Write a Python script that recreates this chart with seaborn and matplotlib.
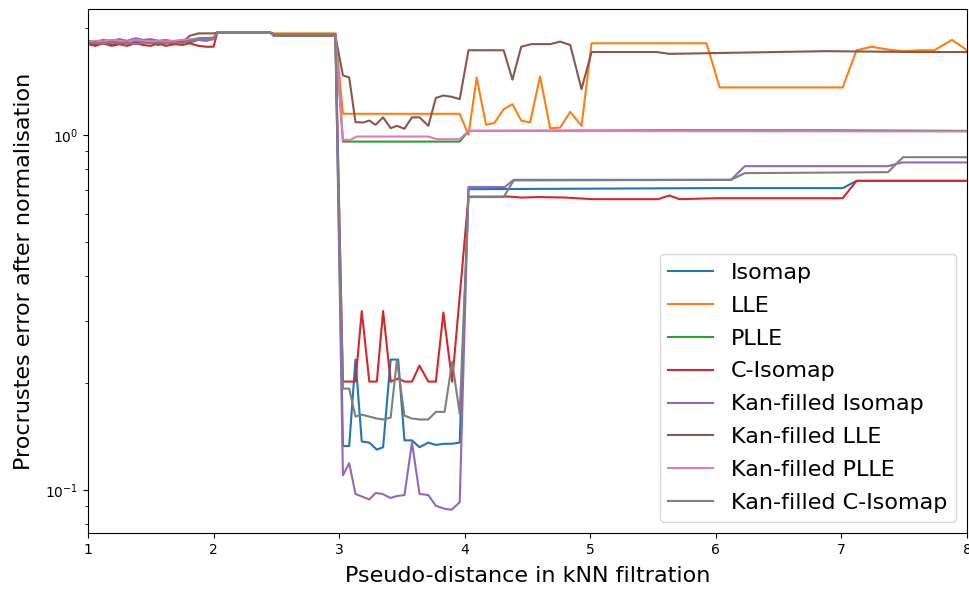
import numpy as np
import pandas as pd
import matplotlib
matplotlib.use("Agg")
import matplotlib.pyplot as plt
import seaborn as sns

methods = ["Isomap", "LLE", "PLLE", "C-Isomap", "Kan-filled Isomap",
           "Kan-filled LLE", "Kan-filled PLLE", "Kan-filled C-Isomap"]

# shared x positions for the noisy early part (1 .. 3)
x_early = [1.0, 1.06, 1.12, 1.19, 1.25, 1.31, 1.38, 1.44, 1.50, 1.56, 1.62,
           1.69, 1.75, 1.81, 1.88, 1.94, 2.0, 2.03, 2.45, 2.48, 2.97]

isomap_early = [1.82, 1.80, 1.83, 1.79, 1.82, 1.81, 1.80, 1.83, 1.82, 1.79, 1.82,
                1.80, 1.83, 1.82, 1.85, 1.86, 1.87, 1.94, 1.94, 1.92, 1.92]
lle_early = [1.83, 1.82, 1.81, 1.83, 1.82, 1.83, 1.81, 1.84, 1.82, 1.83, 1.81,
             1.83, 1.82, 1.84, 1.86, 1.87, 1.88, 1.94, 1.94, 1.93, 1.93]
plle_early = [1.82, 1.83, 1.82, 1.82, 1.83, 1.81, 1.83, 1.82, 1.83, 1.82, 1.83,
              1.82, 1.82, 1.85, 1.87, 1.87, 1.87, 1.94, 1.94, 1.92, 1.92]
cisomap_early = [1.80, 1.78, 1.81, 1.78, 1.80, 1.78, 1.81, 1.79, 1.78, 1.81, 1.78,
                 1.80, 1.79, 1.81, 1.78, 1.77, 1.77, 1.94, 1.94, 1.92, 1.92]
kisomap_early = [1.84, 1.83, 1.85, 1.84, 1.86, 1.84, 1.87, 1.85, 1.86, 1.84, 1.85,
                 1.83, 1.85, 1.84, 1.86, 1.86, 1.87, 1.94, 1.94, 1.92, 1.92]
klle_early = [1.82, 1.83, 1.81, 1.82, 1.83, 1.82, 1.81, 1.82, 1.83, 1.82, 1.81,
              1.83, 1.82, 1.90, 1.93, 1.93, 1.93, 1.94, 1.94, 1.90, 1.90]
kplle_early = [1.83, 1.84, 1.83, 1.85, 1.84, 1.83, 1.85, 1.84, 1.83, 1.84, 1.83,
               1.84, 1.85, 1.86, 1.85, 1.84, 1.86, 1.94, 1.94, 1.92, 1.92]
kcisomap_early = [1.81, 1.82, 1.80, 1.83, 1.81, 1.82, 1.80, 1.82, 1.81, 1.82, 1.81,
                  1.82, 1.81, 1.84, 1.85, 1.84, 1.86, 1.94, 1.94, 1.92, 1.92]

# later part (3 .. 8), per-series breakpoints
isomap_x = [3.03, 3.08, 3.13, 3.18, 3.24, 3.30, 3.35, 3.41, 3.47, 3.52, 3.58,
            3.64, 3.71, 3.77, 3.84, 3.90, 3.96, 4.03, 6.0, 7.01, 7.12, 8.0]
isomap_y = [0.133, 0.133, 0.233, 0.137, 0.136, 0.130, 0.132, 0.233, 0.233, 0.138, 0.138,
            0.132, 0.136, 0.134, 0.135, 0.135, 0.136, 0.703, 0.708, 0.708, 0.742, 0.742]

lle_x = [3.03, 3.96, 4.03, 4.095, 4.17, 4.235, 4.31, 4.38, 4.45, 4.52, 4.60, 4.68,
         4.76, 4.84, 4.93, 5.01, 5.925, 6.03, 7.01, 7.12, 7.24, 7.36, 7.49, 7.62,
         7.74, 7.88, 8.0]
lle_y = [1.146, 1.146, 1.0, 1.45, 1.067, 1.079, 1.18, 1.22, 1.097, 1.083, 1.46, 1.044,
         1.048, 1.16, 1.06, 1.81, 1.81, 1.36, 1.36, 1.73, 1.77, 1.74, 1.72, 1.73,
         1.73, 1.85, 1.73]

plle_x = [3.03, 3.96, 4.03, 5.6, 6.9, 8.0]
plle_y = [0.957, 0.957, 1.026, 1.03, 1.03, 1.026]

cisomap_x = [3.03, 3.13, 3.18, 3.24, 3.30, 3.35, 3.41, 3.47, 3.52, 3.58, 3.64, 3.71,
             3.77, 3.83, 3.90, 4.03, 4.36, 4.45, 4.6, 4.8, 5.02, 5.54, 5.63, 5.71,
             6.0, 7.01, 7.12, 8.0]
cisomap_y = [0.202, 0.202, 0.319, 0.202, 0.202, 0.319, 0.202, 0.206, 0.202, 0.202, 0.224, 0.202,
             0.202, 0.316, 0.202, 0.67, 0.67, 0.666, 0.668, 0.666, 0.659, 0.659, 0.675, 0.659,
             0.663, 0.663, 0.742, 0.742]

kisomap_x = [3.03, 3.08, 3.13, 3.24, 3.29, 3.345, 3.41, 3.46, 3.52, 3.58, 3.64, 3.71,
             3.77, 3.84, 3.895, 3.96, 4.03, 4.32, 4.39, 6.12, 6.23, 7.37, 7.48, 8.0]
kisomap_y = [0.110, 0.119, 0.0975, 0.0941, 0.0981, 0.0975, 0.095, 0.0962, 0.0968, 0.136,
             0.0975, 0.0968, 0.0903, 0.0886, 0.088, 0.0924, 0.713, 0.713, 0.747, 0.747,
             0.816, 0.816, 0.836, 0.836]

klle_x = [3.03, 3.08, 3.13, 3.19, 3.24, 3.29, 3.35, 3.41, 3.46, 3.52, 3.58, 3.64,
          3.71, 3.77, 3.83, 3.895, 3.96, 4.03, 4.31, 4.38, 4.45, 4.53, 4.68, 4.76,
          4.84, 4.93, 5.01, 5.53, 5.63, 6.88, 7.6, 8.0]
klle_y = [1.47, 1.45, 1.086, 1.083, 1.097, 1.067, 1.12, 1.044, 1.06, 1.04, 1.12, 1.12,
          1.06, 1.27, 1.29, 1.28, 1.26, 1.73, 1.73, 1.43, 1.77, 1.80, 1.80, 1.83,
          1.79, 1.345, 1.71, 1.71, 1.69, 1.72, 1.71, 1.71]

kplle_x = [3.03, 3.09, 3.14, 3.71, 3.78, 3.96, 4.03, 8.0]
kplle_y = [0.968, 0.968, 0.989, 0.989, 0.972, 0.972, 1.026, 1.022]

kcisomap_x = [3.03, 3.08, 3.13, 3.18, 3.24, 3.30, 3.35, 3.41, 3.46, 3.52, 3.58, 3.64,
              3.71, 3.77, 3.84, 3.90, 3.96, 4.03, 4.31, 4.39, 6.12, 6.23, 7.37, 7.49, 8.0]
kcisomap_y = [0.193, 0.193, 0.161, 0.163, 0.161, 0.159, 0.158, 0.160, 0.232, 0.162, 0.159, 0.158,
              0.158, 0.166, 0.166, 0.230, 0.164, 0.668, 0.668, 0.744, 0.747, 0.780, 0.785,
              0.865, 0.865]

series = {
    "Isomap": (isomap_early, isomap_x, isomap_y),
    "LLE": (lle_early, lle_x, lle_y),
    "PLLE": (plle_early, plle_x, plle_y),
    "C-Isomap": (cisomap_early, cisomap_x, cisomap_y),
    "Kan-filled Isomap": (kisomap_early, kisomap_x, kisomap_y),
    "Kan-filled LLE": (klle_early, klle_x, klle_y),
    "Kan-filled PLLE": (kplle_early, kplle_x, kplle_y),
    "Kan-filled C-Isomap": (kcisomap_early, kcisomap_x, kcisomap_y),
}

rows = []
for name in methods:
    early, lx, ly = series[name]
    for xv, yv in zip(list(x_early) + list(lx), list(early) + list(ly)):
        rows.append({"x": xv, "y": yv, "method": name})
df = pd.DataFrame(rows)

fig = plt.figure(figsize=(9.69, 5.90), dpi=100)
ax = fig.add_axes([0.0908, 0.0966, 0.9072, 0.8881])

sns.lineplot(data=df, x="x", y="y", hue="method", hue_order=methods,
             palette="tab10", estimator=None, sort=True, linewidth=1.5, ax=ax)

ax.set_yscale("log")
ax.set_xlim(1, 8)
ax.set_ylim(0.0757, 2.26)
ax.set_xlabel("Pseudo-distance in kNN filtration", fontsize=16, labelpad=7)
ax.set_ylabel("Procrustes error after normalisation", fontsize=16, labelpad=8)
ax.legend(loc="lower right", fontsize=16, title=None, labelspacing=0.58)

fig.savefig("out.png", dpi=100)
